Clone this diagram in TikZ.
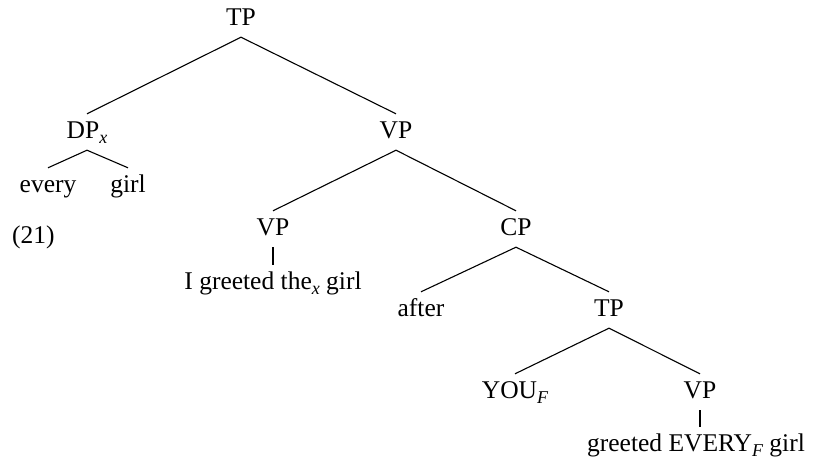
\documentclass[tikz,border=0pt]{standalone}
\usepackage{fontspec}
\setmainfont{Liberation Serif}
\newcommand{\sbx}[1]{\raisebox{-5pt}{\fontsize{18}{18}\selectfont\itshape #1}}
\begin{document}
\begin{tikzpicture}[x=1pt,y=-1pt,
  lab/.style={inner xsep=0pt, inner ysep=7pt, text height=17pt, text depth=5pt,
              anchor=base, font=\fontsize{25.5}{30}\selectfont},
  leaf/.style={lab, inner ysep=3pt, text depth=4pt},
  br/.style={line width=1.1pt},
  un/.style={line width=2pt, shorten >=4pt}]
\useasboundingbox (0,0) rectangle (820,461);

% nodes (x = centre, y = baseline)
\node[lab] (tp0)  at (241,25)  {TP};
\node[lab] (dp)   at (87,138)  {DP\sbx{x}};
\node[lab] (vp1)  at (396,138) {VP};
\node[lab] (every) at (48,192) {every};
\node[lab] (girl) at (128,192) {girl};
\node[lab,anchor=base west] (ex) at (12,243) {(21)};
\node[lab] (vp2)  at (273,235) {VP};
\node[lab] (cp)   at (516,235) {CP};
\node[leaf] (igr) at (273,289) {I greeted the\sbx{x} girl};
\node[lab] (after) at (421,316) {after};
\node[lab] (tp3)  at (609,316) {TP};
\node[lab] (you)  at (515,398) {YOU\sbx{F}};
\node[lab] (vp4)  at (700,398) {VP};
\node[leaf] (gre) at (696,451) {greeted EVERY\sbx{F} girl};

% branches
\draw[br] (tp0.south) -- (dp.north);
\draw[br] (tp0.south) -- (vp1.north);
\draw[br] (dp.south) -- (every.north);
\draw[br] (dp.south) -- (girl.north);
\draw[br] (vp1.south) -- (vp2.north);
\draw[br] (vp1.south) -- (cp.north);
\draw[un] (vp2.south) -- (vp2.south |- igr.north);
\draw[br] (cp.south) -- (after.north);
\draw[br] (cp.south) -- (tp3.north);
\draw[br] (tp3.south) -- (you.north);
\draw[br] (tp3.south) -- (vp4.north);
\draw[un] (vp4.south) -- (vp4.south |- gre.north);
\end{tikzpicture}
\end{document}
